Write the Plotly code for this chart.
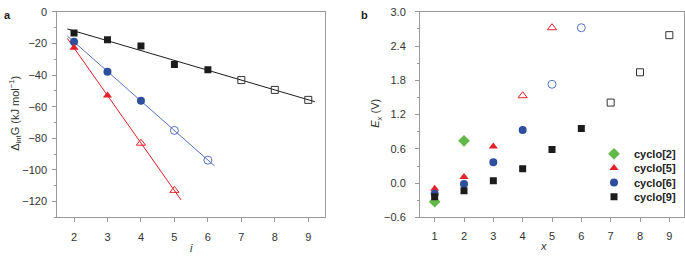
import numpy as np
import plotly.graph_objects as go

# ---------------- data: panel a ----------------
i_c9 = [2, 3, 4, 5, 6, 7, 8, 9]
g_c9 = [-13.5, -17.7, -21.6, -33.3, -36.7, -43.2, -49.4, -55.7]
n_fill_c9 = 5
i_c6 = [2, 3, 4, 5, 6]
g_c6 = [-19.0, -37.9, -56.3, -75.0, -93.8]
n_fill_c6 = 3
i_c5 = [2, 3, 4, 5]
g_c5 = [-22.8, -53.0, -83.1, -112.9]
n_fill_c5 = 2
fit_span_c9 = [1.8, 9.2]
fit_span_c6 = [1.8, 6.2]
fit_span_c5 = [1.8, 5.2]

# ---------------- data: panel b ----------------
x_c2 = [1, 2]
e_c2 = [-0.325, 0.74]
x_c5 = [1, 2, 3, 4, 5]
e_c5 = [-0.10, 0.107, 0.64, 1.53, 2.72]
nb_fill_c5 = 3
x_c6 = [1, 2, 3, 4, 5, 6]
e_c6 = [-0.185, -0.017, 0.365, 0.93, 1.73, 2.72]
nb_fill_c6 = 4
x_c9 = [1, 2, 3, 4, 5, 6, 7, 8, 9]
e_c9 = [-0.24, -0.135, 0.04, 0.25, 0.59, 0.955, 1.41, 1.94, 2.59]
nb_fill_c9 = 6

names = ["cyclo[2]", "cyclo[5]", "cyclo[6]", "cyclo[9]"]

BLACK = "#1c1c1c"
BLUE = "#2e4f9e"
BLUE_OPEN = "#5573c4"
RED = "#e4202a"
GREEN = "#63b947"
FONT = "Liberation Sans"

W, H = 685, 259
fig = go.Figure()


def fit_line(xs, ys, span, color, xa, ya):
    p = np.polyfit(xs, ys, 1)
    xx = np.array(span)
    fig.add_trace(go.Scatter(x=xx, y=np.polyval(p, xx), mode="lines",
                             line=dict(color=color, width=1), showlegend=False,
                             hoverinfo="skip", xaxis=xa, yaxis=ya))


def pts(xs, ys, n_fill, sym, color, open_color, size, xa, ya, name=None, legend=None):
    fig.add_trace(go.Scatter(x=xs[:n_fill], y=ys[:n_fill], mode="markers",
                             marker=dict(symbol=sym, color=color, size=size, line=dict(width=0)),
                             name=name, showlegend=legend is not None,
                             legend=legend if legend else "legend",
                             xaxis=xa, yaxis=ya))
    if n_fill < len(xs):
        fig.add_trace(go.Scatter(x=xs[n_fill:], y=ys[n_fill:], mode="markers",
                                 marker=dict(symbol=sym + "-open", color=open_color, size=size,
                                             line=dict(width=1, color=open_color)),
                                 showlegend=False, xaxis=xa, yaxis=ya))


# panel a
fit_line(i_c9, g_c9, fit_span_c9, BLACK, "x", "y")
fit_line(i_c6, g_c6, fit_span_c6, BLUE_OPEN, "x", "y")
fit_line(i_c5, g_c5, fit_span_c5, RED, "x", "y")
pts(i_c9, g_c9, n_fill_c9, "square", BLACK, "#333333", 7, "x", "y")
pts(i_c6, g_c6, n_fill_c6, "circle", BLUE, BLUE_OPEN, 8, "x", "y")
pts(i_c5, g_c5, n_fill_c5, "triangle-up", RED, RED, 8, "x", "y")

# panel b (each series gets its own legend box so rows can sit 15 px apart)
leg_ids = ["legend", "legend2", "legend3", "legend4"]
pts(x_c2, e_c2, len(x_c2), "diamond", GREEN, GREEN, 9, "x2", "y2", "<b>" + names[0] + "</b>", leg_ids[0])
pts(x_c5, e_c5, nb_fill_c5, "triangle-up", RED, RED, 8, "x2", "y2", "<b>" + names[1] + "</b>", leg_ids[1])
pts(x_c6, e_c6, nb_fill_c6, "circle", BLUE, BLUE_OPEN, 8, "x2", "y2", "<b>" + names[2] + "</b>", leg_ids[2])
pts(x_c9, e_c9, nb_fill_c9, "square", BLACK, "#333333", 7, "x2", "y2", "<b>" + names[3] + "</b>", leg_ids[3])

ax_common = dict(showgrid=False, zeroline=False, showline=True, linecolor="#9a9a9a",
                 linewidth=1, mirror=True, ticks="outside", ticklen=4, tickcolor="#9a9a9a",
                 ticklabeloverflow="allow",
                 tickfont=dict(family=FONT, size=11, color="#333333"))
ydom = [1 - 221.7 / H, 1 - 6 / H]

layout = dict(
    width=W, height=H, margin=dict(l=0, r=0, t=0, b=0),
    plot_bgcolor="white", paper_bgcolor="white",
    font=dict(family=FONT, size=11, color="#333333"),
    xaxis=dict(domain=[57.3 / W, 325 / W], range=[1.5, 9.5], tickvals=list(range(2, 10)),
               anchor="y", ticklabelstandoff=5, **ax_common),
    yaxis=dict(domain=ydom, range=[-130, 0], dtick=20, anchor="x", ticklabelstandoff=3,
               minor=dict(ticks="outside", dtick=10, ticklen=2, tickcolor="#9a9a9a"), **ax_common),
    xaxis2=dict(domain=[420 / W, 684 / W], range=[0.5, 9.5], tickvals=list(range(1, 10)),
                anchor="y2", ticklabelstandoff=4, **ax_common),
    yaxis2=dict(domain=ydom, range=[-0.6, 3.0], dtick=0.6, tick0=0, tickformat=".1f", anchor="x2",
                ticklabelstandoff=7,
                minor=dict(ticks="outside", dtick=0.3, ticklen=2, tickcolor="#9a9a9a"), **ax_common),
)
leg_rows = [155, 170, 185, 200]
for lid, row in zip(leg_ids, leg_rows):
    layout[lid] = dict(x=594 / W, y=1 - row / H, xanchor="left", yanchor="middle",
                       bgcolor="rgba(0,0,0,0)", borderwidth=0,
                       font=dict(family=FONT, size=11, color="#222222"))
fig.update_layout(**layout)

ann = []
ann.append(dict(text="<b>a</b>", x=2 / W, y=1 - 1 / H, xanchor="left", yanchor="top",
                font=dict(size=11, color="#222222")))
ann.append(dict(text="<b>b</b>", x=359 / W, y=1 - 1 / H, xanchor="left", yanchor="top",
                font=dict(size=11, color="#222222")))
ann.append(dict(text="Δ<sub>int</sub>G (kJ mol<sup>−1</sup>)", x=15 / W, y=1 - 113 / H,
                textangle=-90, xanchor="center", yanchor="middle", font=dict(size=11)))
ann.append(dict(text="<i>i</i>", x=191.5 / W, y=-3 / H, xanchor="center", yanchor="bottom",
                font=dict(size=11)))
ann.append(dict(text="<i>E</i><sub><i>x</i></sub> (V)", x=376 / W, y=1 - 113 / H,
                textangle=-90, xanchor="center", yanchor="middle", font=dict(size=11)))
ann.append(dict(text="<i>x</i>", x=543 / W, y=-1 / H, xanchor="center", yanchor="bottom",
                font=dict(size=11)))
for a in ann:
    a.update(xref="paper", yref="paper", showarrow=False)
fig.update_layout(annotations=ann)

fig.write_html("out.html", config={"displayModeBar": False},
               post_script="document.body.style.margin='0';document.body.style.padding='0';")
